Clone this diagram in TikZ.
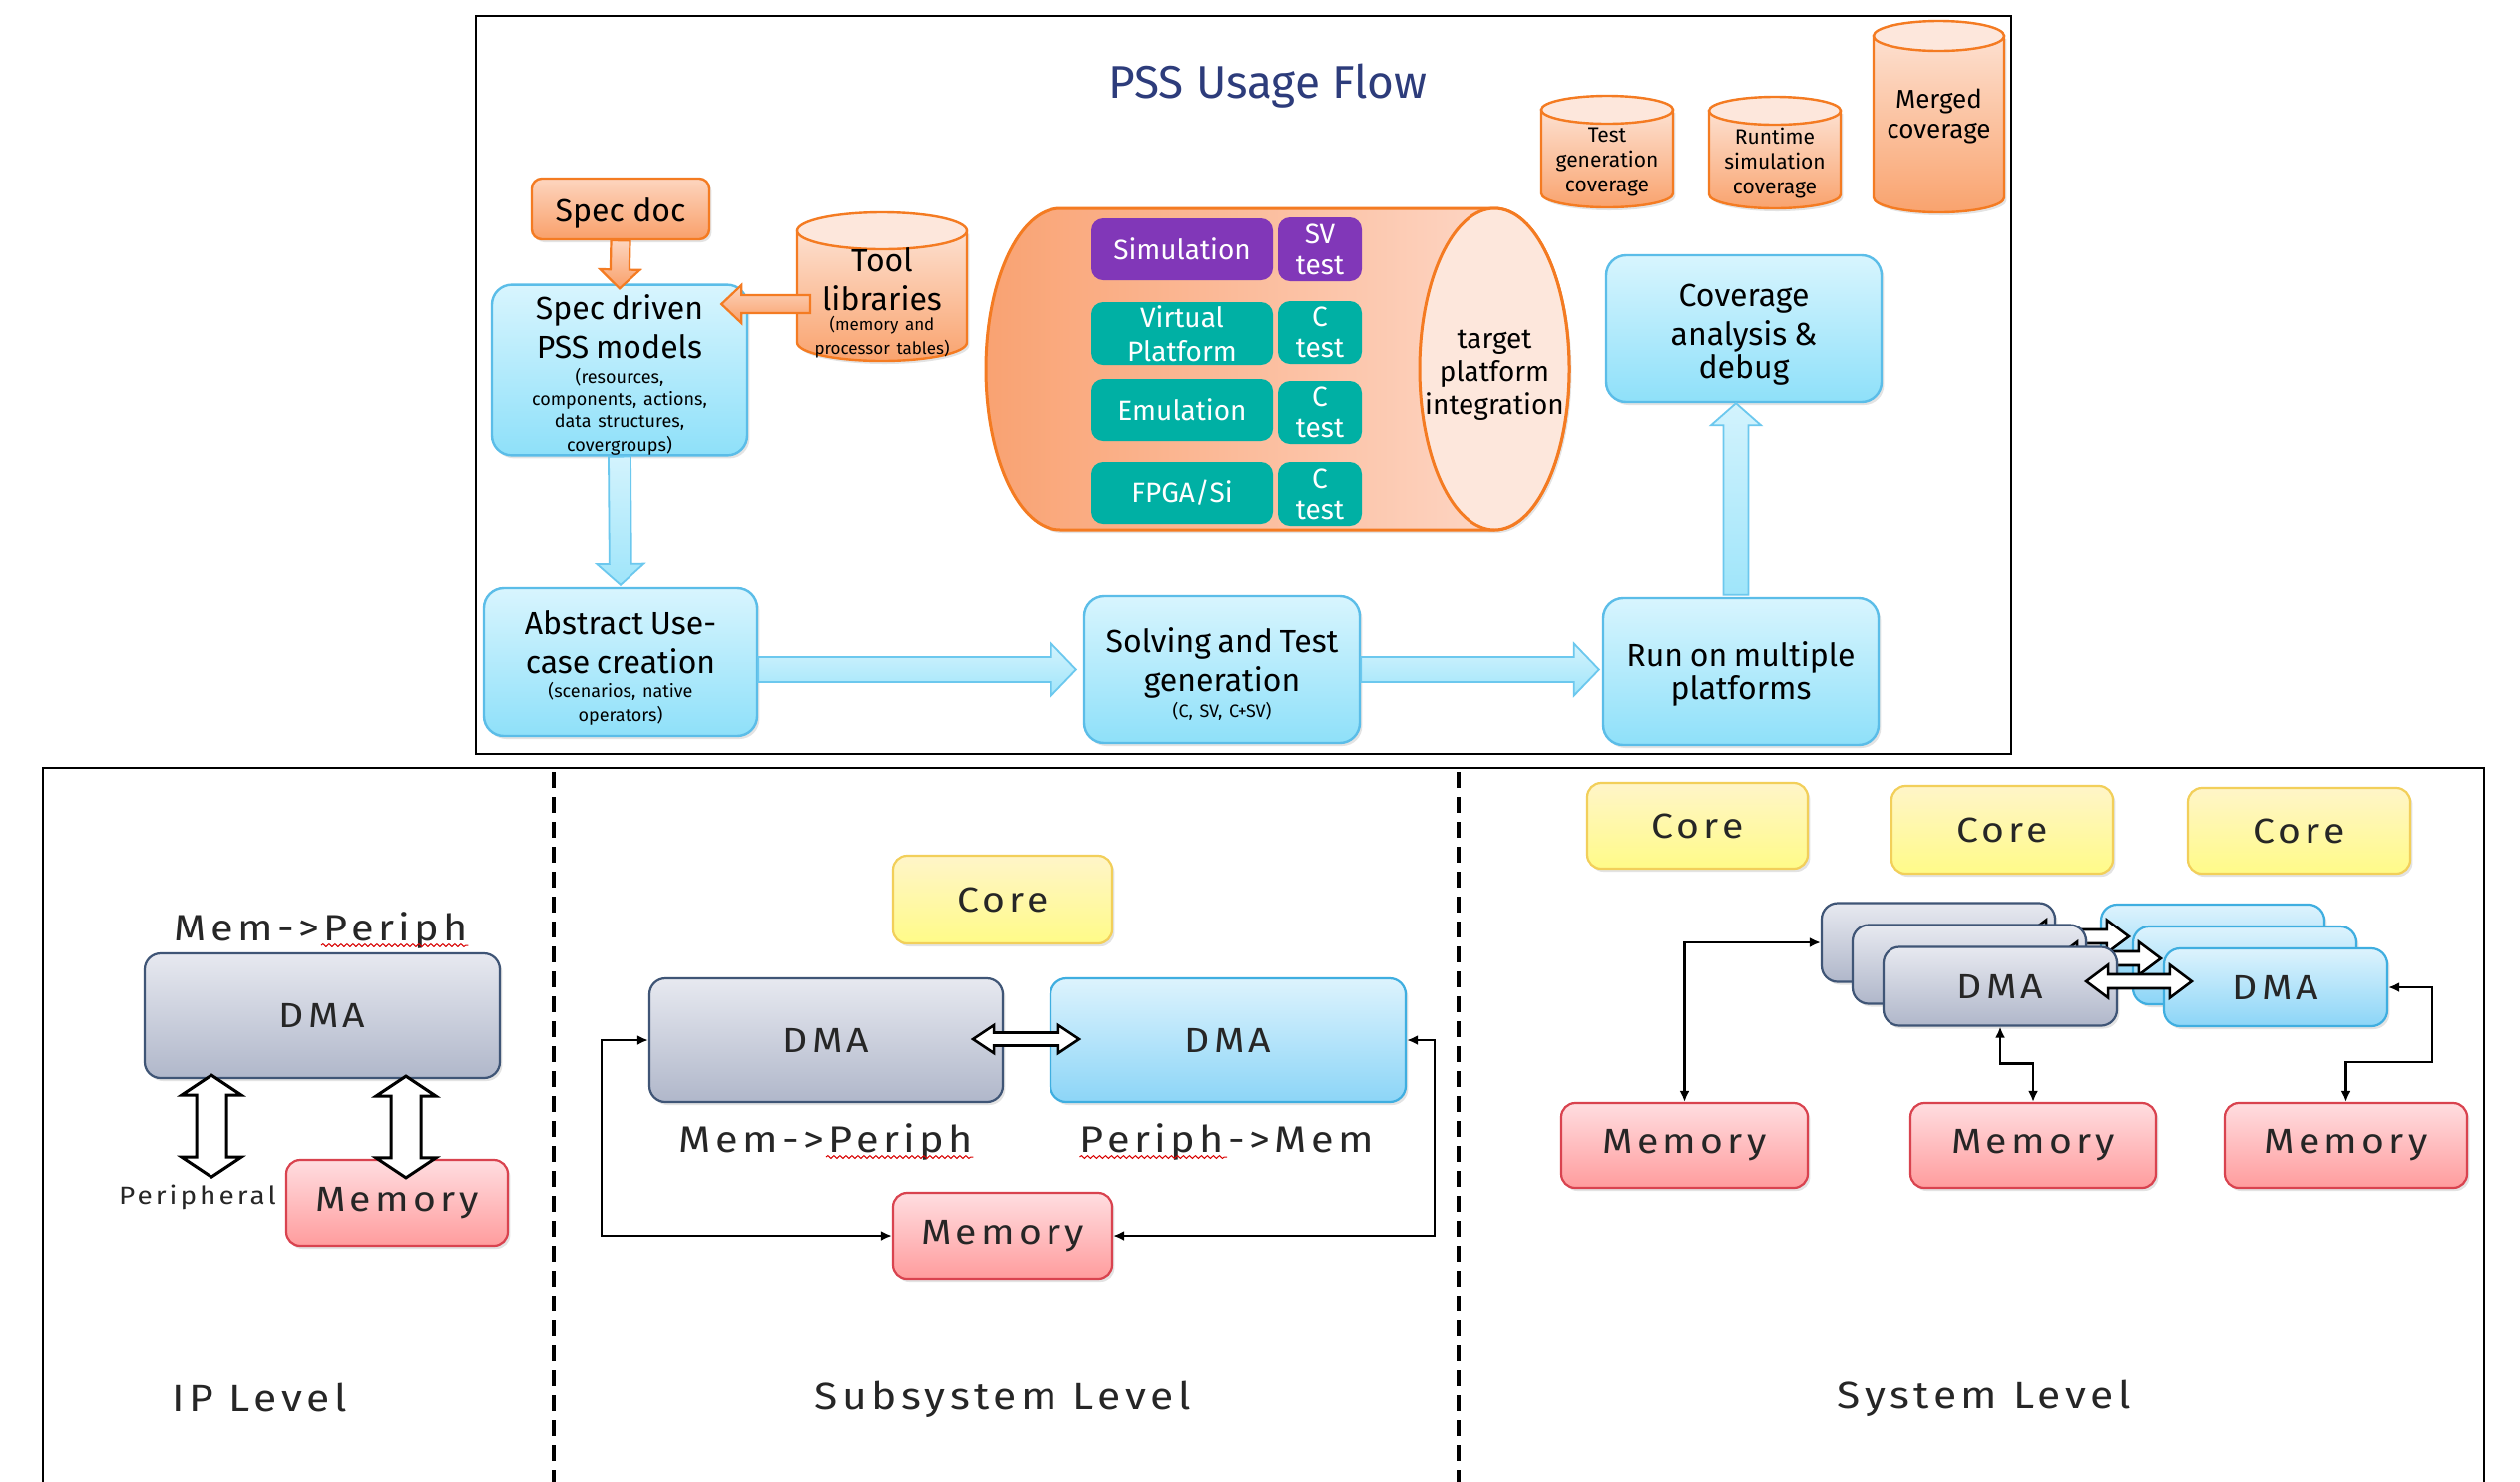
\documentclass[tikz,border=0pt]{standalone}
\usepackage{fontspec}
\setmainfont{Fira Sans}
\newfontfamily\wfont[LetterSpace=12,FakeStretch=1.12]{Fira Sans}
\usetikzlibrary{calc,shadows,decorations.pathmorphing,arrows.meta}

\definecolor{titleC}{HTML}{2D3C7B}
\definecolor{blueT}{HTML}{D8F5FE}
\definecolor{blueB}{HTML}{8EE0F9}
\definecolor{blueD}{HTML}{5BBDE8}
\definecolor{orgT}{HTML}{FDD5BF}
\definecolor{orgB}{HTML}{F9A06A}
\definecolor{orgD}{HTML}{F47B22}
\definecolor{cylT}{HTML}{FDE0D0}
\definecolor{cylB}{HTML}{F9A36E}
\definecolor{cylTop}{HTML}{FDE7DC}
\definecolor{bigL}{HTML}{F9A272}
\definecolor{bigR}{HTML}{FEDDD0}
\definecolor{purp}{HTML}{8137B8}
\definecolor{tealc}{HTML}{00B0A4}
\definecolor{grayT}{HTML}{E7E9F0}
\definecolor{grayBt}{HTML}{B0B7CA}
\definecolor{grayD}{HTML}{3F5576}
\definecolor{dblT}{HTML}{DDF3FD}
\definecolor{dblB}{HTML}{8CD5F7}
\definecolor{dblD}{HTML}{3FAEE0}
\definecolor{memT}{HTML}{FFDDE0}
\definecolor{memB}{HTML}{FF9C9D}
\definecolor{memD}{HTML}{D9434F}
\definecolor{coreT}{HTML}{FFF5C8}
\definecolor{coreB}{HTML}{FFFB88}
\definecolor{coreD}{HTML}{F2CF5A}
\definecolor{arrT}{HTML}{D3F3FD}
\definecolor{arrB}{HTML}{9FE5FA}
\definecolor{arrD}{HTML}{6CC8EE}

\newcommand\fMain{\fontsize{16}{19.5}\selectfont}
\newcommand\fSub{\fontsize{9}{11}\selectfont}
\newcommand\lift[1]{\rule{0pt}{#1}}

% single block arrow: opts, from, to, shaft half, head half, head length
\newcommand\SArrow[6][]{%
 \path[#1] let \p1=(#2), \p2=(#3), \n1={veclen(\x2-\x1,\y2-\y1)},
   \n3={(\x2-\x1)/\n1}, \n4={(\y2-\y1)/\n1}, \n5={\n1-#6} in
  ({\x1-(#4)*\n4},{\y1+(#4)*\n3}) --
  ({\x1+\n5*\n3-(#4)*\n4},{\y1+\n5*\n4+(#4)*\n3}) --
  ({\x1+\n5*\n3-(#5)*\n4},{\y1+\n5*\n4+(#5)*\n3}) --
  (\x2,\y2) --
  ({\x1+\n5*\n3+(#5)*\n4},{\y1+\n5*\n4-(#5)*\n3}) --
  ({\x1+\n5*\n3+(#4)*\n4},{\y1+\n5*\n4-(#4)*\n3}) --
  ({\x1+(#4)*\n4},{\y1-(#4)*\n3}) -- cycle;}
% double block arrow
\newcommand\DArrow[6][]{%
 \path[#1] let \p1=(#2), \p2=(#3), \n1={veclen(\x2-\x1,\y2-\y1)},
   \n3={(\x2-\x1)/\n1}, \n4={(\y2-\y1)/\n1}, \n5={\n1-#6} in
  (\x1,\y1) --
  ({\x1+(#6)*\n3-(#5)*\n4},{\y1+(#6)*\n4+(#5)*\n3}) --
  ({\x1+(#6)*\n3-(#4)*\n4},{\y1+(#6)*\n4+(#4)*\n3}) --
  ({\x1+\n5*\n3-(#4)*\n4},{\y1+\n5*\n4+(#4)*\n3}) --
  ({\x1+\n5*\n3-(#5)*\n4},{\y1+\n5*\n4+(#5)*\n3}) --
  (\x2,\y2) --
  ({\x1+\n5*\n3+(#5)*\n4},{\y1+\n5*\n4-(#5)*\n3}) --
  ({\x1+\n5*\n3+(#4)*\n4},{\y1+\n5*\n4-(#4)*\n3}) --
  ({\x1+(#6)*\n3+(#4)*\n4},{\y1+(#6)*\n4-(#4)*\n3}) --
  ({\x1+(#6)*\n3+(#5)*\n4},{\y1+(#6)*\n4-(#5)*\n3}) -- cycle;}
% vertical cylinder: cx, top, bottom, rx, ry
\newcommand\VCyl[5]{%
  \path[cylbody] (#1-#4,#2+#5) -- (#1-#4,#3-#5) arc[start angle=180,end angle=0,x radius=#4,y radius=#5] -- (#1+#4,#2+#5) -- cycle;
  \path[cyltop] (#1,#2+#5) ellipse[x radius=#4,y radius=#5];}

\begin{document}
\begin{tikzpicture}[x=0.5pt,y=-0.5pt,
  sz/.style 2 args={minimum width=#1*0.5pt, minimum height=#2*0.5pt},
  shad/.style={drop shadow={shadow xshift=1.2pt, shadow yshift=-1.5pt, opacity=0.22}},
  bx/.style={inner sep=0pt, align=center, shad},
  bluebox/.style={bx, draw=blueD, line width=1.2pt, rounded corners=10pt, top color=blueT, bottom color=blueB},
  orgbox/.style={bx, draw=orgD, line width=1.2pt, rounded corners=5pt, top color=orgT, bottom color=orgB},
  purbox/.style={inner sep=0pt, align=center, fill=purp, rounded corners=6pt, text=white},
  tealbox/.style={inner sep=0pt, align=center, fill=tealc, rounded corners=6pt, text=white},
  cylbody/.style={draw=orgD, line width=1.2pt, top color=cylT, bottom color=cylB, shad},
  cyltop/.style={draw=orgD, line width=1.2pt, fill=cylTop},
  orgarrow/.style={draw=orgD, line width=1.1pt, top color=orgT, bottom color=orgB},
  bluearrow/.style={draw=arrD, line width=0.9pt, top color=arrT, bottom color=arrB},
  hol/.style={draw=black, fill=white, line width=1.5pt},
  bfont/.style={font=\wfont\fontsize{17.5}{19}\selectfont, text=black!85},
  grayb/.style={bx, bfont, draw=grayD, line width=1.1pt, rounded corners=8pt, top color=grayT, bottom color=grayBt},
  bluedma/.style={bx, bfont, draw=dblD, line width=1.1pt, rounded corners=8pt, top color=dblT, bottom color=dblB},
  memb/.style={bx, bfont, draw=memD, line width=1.1pt, rounded corners=7pt, top color=memT, bottom color=memB},
  coreb/.style={bx, bfont, draw=coreD, line width=1.1pt, rounded corners=7pt, top color=coreT, bottom color=coreB},
  lab18/.style={inner sep=0pt, font=\wfont\fontsize{18.5}{20}\selectfont, text=black!85},
  lab19/.style={inner sep=0pt, font=\wfont\fontsize{19}{21}\selectfont, text=black!85},
  lab12/.style={inner sep=0pt, font=\wfont\fontsize{12.5}{14}\selectfont, text=black!85},
  thinc/.style={draw=black, line width=1.3pt, >={Latex[length=5.5pt,width=5pt]}, <->},
  wavy/.style={draw=red!85!black, line width=0.5pt, decorate, decoration={snake, amplitude=0.7pt, segment length=3pt}},
  dashline/.style={line width=2.4pt, dash pattern=on 8pt off 4.5pt}
]
\useasboundingbox (0,0) rectangle (2526,1485);
\fill[white] (0,0) rectangle (2526,1485);

%================ TOP PANEL =================
\draw[line width=1pt] (477,16) rectangle (2016,756);
\node[anchor=base, text=titleC, font=\fontsize{23}{27}\selectfont] (title) at (1271,98) {PSS Usage Flow};

% coverage cylinders
\VCyl{1611}{96}{208}{66}{14}
\node[align=center, inner sep=0pt, font=\fontsize{10.5}{12.5}\selectfont] (tgcov) at (1611,162) {Test\\generation\\coverage};
\VCyl{1779}{97}{209}{66}{14}
\node[align=center, inner sep=0pt, font=\fontsize{10.5}{12.5}\selectfont] (rtcov) at (1779,164) {Runtime\\simulation\\coverage};
\VCyl{1943.5}{21}{213}{65.5}{15}
\node[align=center, inner sep=0pt, font=\fontsize{13}{15}\selectfont] (mgcov) at (1943.5,117) {Merged\\coverage};

% tool libraries
\VCyl{884}{213}{362}{85}{18.5}
\node[align=center, text width=90pt, inner sep=0pt] (tool) at (884,304) {\fMain Tool\\libraries\par\fontsize{8.5}{10}\selectfont (memory and\\processor tables)};
\coordinate (toolW) at (812,305);

% spec doc & spec driven
\node[orgbox, sz={178}{61}, font=\fontsize{16}{18}\selectfont, text height=15.5pt, text depth=3pt] (specdoc) at (622,209.5) {Spec doc};
\node[bluebox, sz={256}{168}, text width=122pt] (specdrv) at (621,371) {\fMain \lift{17.5pt}Spec driven\\PSS models\par\fSub\vspace{1.5pt}(resources,\\components, actions,\\data structures,\\covergroups)};

\SArrow[orgarrow]{specdoc.south}{$(specdrv.north)+(0,5)$}{4.75pt}{10pt}{9.5pt}
\SArrow[orgarrow]{toolW}{$(specdrv.east |- toolW)+(-27,0)$}{4.5pt}{9.5pt}{10pt}

% big horizontal cylinder
\path[draw=orgD, line width=1.5pt, left color=bigL, right color=bigR, shad]
  (1498,209) -- (1063,209) arc[start angle=270,end angle=90,x radius=75,y radius=161]
  -- (1498,531) arc[start angle=90,end angle=-90,x radius=75,y radius=161] -- cycle;
\path[draw=orgD, line width=1.5pt, fill=cylTop] (1498,370) ellipse[x radius=75,y radius=161];
\node[align=center, inner sep=0pt, font=\fontsize{14}{16.5}\selectfont] (tpi) at (1498,376) {target\\platform\\integration};

\node[purbox, sz={182}{62}, font=\fontsize{14}{16}\selectfont] (sim) at (1185,250) {Simulation};
\node[purbox, sz={84}{64}, font=\fontsize{14}{15.5}\selectfont] (svt) at (1323,250) {SV\\test};
\node[tealbox, sz={182}{63}, font=\fontsize{14}{17}\selectfont] (vp) at (1185,334.5) {Virtual\\Platform};
\node[tealbox, sz={84}{63}, font=\fontsize{14}{15.5}\selectfont] (ct1) at (1323,333.5) {C\\test};
\node[tealbox, sz={182}{62}, font=\fontsize{14}{16}\selectfont] (emu) at (1185,411) {Emulation};
\node[tealbox, sz={84}{63}, font=\fontsize{14}{15.5}\selectfont] (ct2) at (1323,413.5) {C\\test};
\node[tealbox, sz={182}{62}, font=\fontsize{14}{16}\selectfont] (fpga) at (1185,494) {FPGA/Si};
\node[tealbox, sz={84}{64}, font=\fontsize{14}{15.5}\selectfont] (ct3) at (1323,495) {C\\test};

% flow boxes
\node[bluebox, sz={276}{147}, text width=130pt] (cov) at (1748,329.5) {\fMain \lift{17pt}Coverage\\analysis \&\\debug};
\node[bluebox, sz={274}{148}, text width=130pt] (abs) at (622,664) {\fMain \lift{17.5pt}Abstract Use-\\case creation\par\fSub\vspace{1pt}(scenarios, native\\operators)};
\node[bluebox, sz={276}{147}, text width=130pt] (solv) at (1225,671.5) {\fMain \lift{16.5pt}Solving and Test\\generation\par\fSub\vspace{1pt}(C, SV, C+SV)};
\node[bluebox, sz={276}{147}, text width=130pt] (run) at (1745,673.5) {\fMain \lift{15pt}Run on multiple\\platforms};

\SArrow[bluearrow]{specdrv.south}{$(abs.north)+(0,-2)$}{5.5pt}{11.75pt}{10.5pt}
\SArrow[bluearrow]{abs.east |- solv.west}{$(solv.west)+(-7,0)$}{6.25pt}{13pt}{12.5pt}
\SArrow[bluearrow]{solv.east}{$(run.west |- solv.east)+(-3,0)$}{6.25pt}{13pt}{12.5pt}
\SArrow[bluearrow]{$(run.north)+(-5,-2)$}{$(run.north |- cov.south)+(-5,0)$}{6.25pt}{12.5pt}{11pt}

%================ BOTTOM PANEL =================
\draw[line width=1.2pt] (43,1495) -- (43,770) -- (2490,770) -- (2490,1495);
\draw[dashline] (555,774) -- (555,1490);
\draw[dashline] (1462,774) -- (1462,1490);

% IP level
\node[lab18, anchor=base] (memp1) at (322,943) {Mem->Periph};
\draw[wavy] ($(memp1.base west)!0.5!(memp1.base east)+(0,5)$) -- ($(memp1.base east)+(0,5)$);
\node[grayb, sz={356}{125}] (dma1) at (323,1018.5) {DMA};
\node[memb, sz={222}{86}] (mem1) at (398,1206) {Memory};
\coordinate (ipa1) at ($(dma1.south)+(-111,-4)$);
\coordinate (ipa2) at ($(ipa1)+(0,102)$);
\coordinate (ipb1) at ($(dma1.south)+(84,-3)$);
\coordinate (ipb2) at ($(mem1.north)+(9,19)$);
\DArrow[hol]{ipa1}{ipa2}{7.5pt}{15pt}{10pt}
\DArrow[hol]{ipb1}{ipb2}{7.5pt}{15pt}{10pt}
\node[lab12, anchor=base] (periph) at (198,1207) {Peripheral};
\node[lab19, anchor=base] (iplev) at (260,1415) {IP Level};

% Subsystem level
\node[coreb, sz={220}{88}] (core1) at (1005,902) {Core};
\node[grayb, sz={354}{124}] (dma2a) at (828,1043) {DMA};
\node[bluedma, sz={356}{124}] (dma2b) at (1231,1043) {DMA};
\DArrow[hol, line width=1.3pt]{$(dma2a.east)+(-31,-1)$}{$(dma2b.west)+(30,-1)$}{3.25pt}{7pt}{10.5pt}
\node[lab18, anchor=base] (memp2) at (828,1155) {Mem->Periph};
\draw[wavy] ($(memp2.base west)!0.5!(memp2.base east)+(0,5)$) -- ($(memp2.base east)+(0,5)$);
\node[lab18, anchor=base] (pmem) at (1230,1155) {Periph->Mem};
\draw[wavy] ($(pmem.base west)+(0,5)$) -- ($(pmem.base west)!0.5!(pmem.base east)+(0,5)$);
\node[memb, sz={220}{86}] (mem2) at (1005,1239) {Memory};
\coordinate (ssL) at (603,1040);
\coordinate (ssR) at (1438,1040);
\draw[thinc] (dma2a.west) -- (ssL |- dma2a.west) |- (mem2.west);
\draw[thinc] (dma2b.east) -- (ssR |- dma2b.east) |- (mem2.east);
\node[lab19, anchor=base] (sslev) at (1005,1413) {Subsystem Level};

% System level
\node[coreb, sz={221}{86}] (c1) at (1701.5,828) {Core};
\node[coreb, sz={222}{88}] (c2) at (2007,832) {Core};
\node[coreb, sz={223}{86}] (c3) at (2304.5,833) {Core};

\node[grayb, sz={234}{79}] (gB) at (1943,945) {};
\node[bluedma, sz={224}{78}] (bB) at (2218,946) {};
\DArrow[hol, line width=1.3pt]{$(gB.east)+(-32,-6)$}{$(bB.west)+(29,-7)$}{3.5pt}{8.25pt}{11pt}
\node[grayb, sz={234}{79}] (gM) at (1974,967) {};
\node[bluedma, sz={224}{78}] (bM) at (2250,968) {};
\DArrow[hol, line width=1.3pt]{$(gM.east)+(-32,-6)$}{$(bM.west)+(29,-7)$}{3.5pt}{8.25pt}{11pt}
\node[grayb, sz={234}{79}] (gF) at (2005,989) {DMA};
\node[bluedma, sz={224}{78}] (bF) at (2281,990) {DMA};
\DArrow[hol, line width=1.3pt]{$(gF.east)+(-32,-5)$}{$(bF.west)+(29,-6)$}{3.5pt}{8.25pt}{11pt}

\node[memb, sz={247}{85}] (m1) at (1688.5,1148.5) {Memory};
\node[memb, sz={246}{85}] (m2) at (2038,1148.5) {Memory};
\node[memb, sz={243}{85}] (m3) at (2351.5,1148.5) {Memory};

\draw[thinc] (m1.north) |- (gB.west);
\draw[thinc] (gF.south) -- ++(0,37) -| (m2.north);
\coordinate (s3) at (2438,1065);
\draw[thinc] (bF.east) -| (s3) -| (m3.north);

\node[lab19, anchor=base] (syslev) at (1989,1412) {System Level};
\end{tikzpicture}
\end{document}
